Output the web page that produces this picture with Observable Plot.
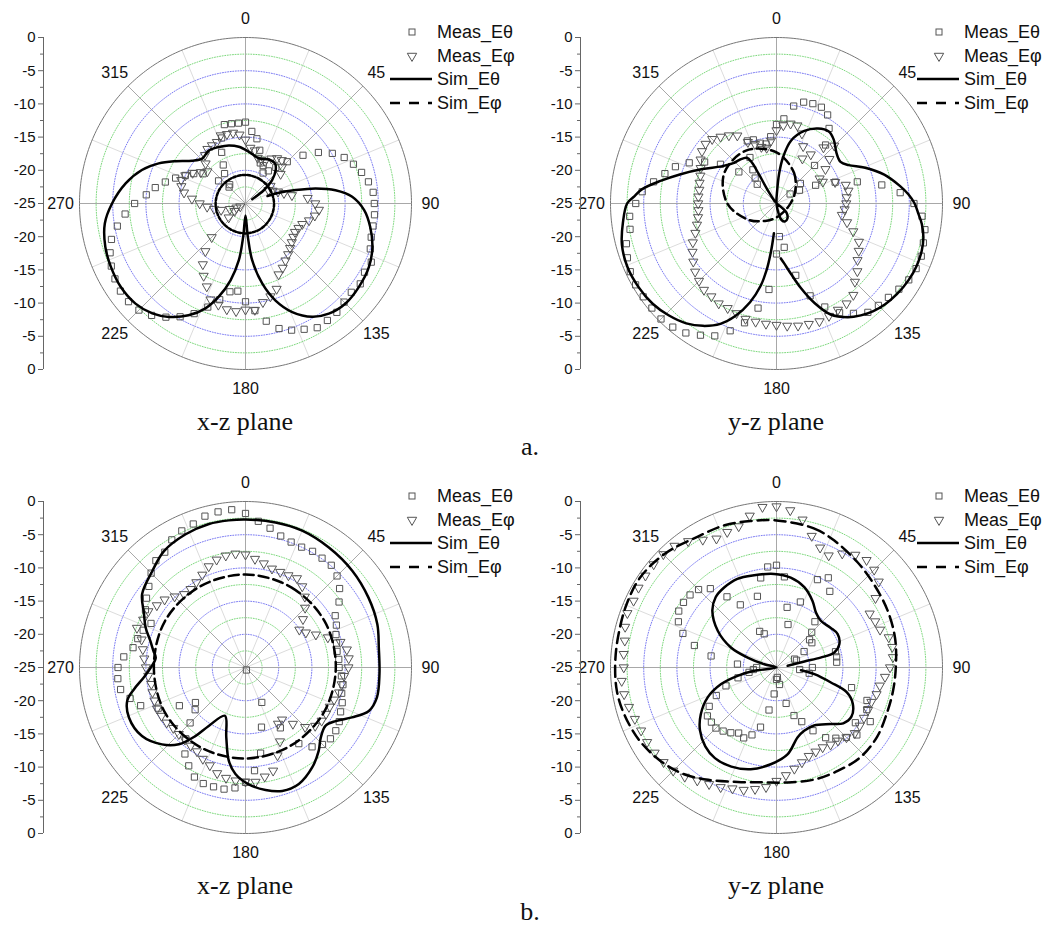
<!DOCTYPE html>
<html><head><meta charset="utf-8">
<script src="https://cdn.jsdelivr.net/npm/d3@7"></script>
<script src="https://cdn.jsdelivr.net/npm/@observablehq/plot@0.6"></script>
<style>
body{margin:0;background:#fff;}
#root{position:relative;width:1061px;height:931px;background:#fff;overflow:hidden;font-family:"Liberation Sans",Arial,sans-serif;}
.cap{position:absolute;font-family:"Liberation Serif","Times New Roman",serif;font-size:26px;color:#111;transform:translate(-50%,-50%);white-space:nowrap;}
</style></head><body><div id="root"></div><script>
// ---------- axis / label data ----------
const ANGLES = [0,5,10,15,20,25,30,35,40,45,50,55,60,65,70,75,80,85,90,95,100,105,110,115,120,125,130,135,140,145,150,155,160,165,170,175,180,185,190,195,200,205,210,215,220,225,230,235,240,245,250,255,260,265,270,275,280,285,290,295,300,305,310,315,320,325,330,335,340,345,350,355];
const ANGLE_LABELS = [0,45,90,135,180,225,270,315];
const MAJOR_SPOKES = [0,45,90,135,180,225,270,315];
const MINOR_SPOKES = [22.5,67.5,112.5,157.5,202.5,247.5,292.5,337.5];
const RADIAL_TICKS = [0,-5,-10,-15,-20,-25];
const MINOR_TICKS = [-2.5,-7.5,-12.5,-17.5,-22.5];
const RINGS_BLUE = [-20,-15,-10,-5];
const RINGS_GREEN = [-22.5,-17.5,-12.5,-7.5,-2.5];
const RMIN = -25, RMAX = 0;
const LEGEND_LABELS = ["Meas_E\u03b8","Meas_E\u03c6","Sim_E\u03b8","Sim_E\u03c6"];
const PLANE_LABELS = ["x-z plane","y-z plane","x-z plane","y-z plane"];
const GROUP_LABELS = ["a.","b."];

// ---------- panel a, x-z ----------
const P1_MEAS_THETA = [-12.75,-14.1,-15.1,-16.7,-18.5,-18.7,-19.7,-19.0,-17.9,-16.1,-13.7,-11.6,
 -9.9,-8.6,-7.7,-6.9,-6.2,-5.7,-5.6,-5.5,-5.5,-5.4,-5.0,-4.1,
 -4.3,-3.9,-4.2,-4.0,-3.6,-3.5,-3.4,-4.1,-4.7,-5.5,-7.0,-8.8,
 -10.2,-11.75,-11.5,-10.0,-8.4,-6.7,-5.3,-4.1,-3.0,-2.3,-2.0,-2.0,
 -2.3,-2.7,-3.3,-4.1,-5.4,-6.8,-8.3,-10.0,-11.2,-12.5,-13.8,-15.0,
 -16.0,-17.2,-19.7,-21.5,-21.3,-19.5,-18.3,-16.5,-14.5,-12.7,-12.8,-12.85];
const P1_MEAS_PHI = [-15.4,-16.6,-16.9,-17.9,-18.0,-18.0,-17.2,-16.7,-16.5,-17.2,-18.1,-20.4,
 -21.0,-20.5,-19.8,-19.0,-17.9,-15.6,-14.5,-13.9,-14.4,-15.1,-15.9,-16.2,
 -16.4,-16.2,-15.9,-15.5,-15.0,-14.5,-13.8,-13.2,-11.3,-10.5,-9.9,-8.9,
 -9.0,-8.7,-8.8,-9.2,-9.6,-11.2,-12.4,-13.8,-15.6,-17.8,-21.7,-23.0,
 -24.1,-23.5,-22.5,-21.2,-20.2,-19.2,-18.1,-16.9,-15.6,-15.0,-14.7,-15.0,
 -15.8,-16.8,-17.5,-16.5,-15.5,-15.0,-14.9,-14.8,-14.1,-14.2,-14.2,-14.6];
const P1_SIM_THETA = [[71.3,-21.5],[72.3,-19.7],[75,-17.2],[77.9,-14.2],[81.6,-11.3],[86.4,-8.9],[93.2,-7.1],[100.6,-5.9],[108.9,-4.8],[117.2,-4.1],[126.3,-3.8],[135,-3.7],[142.9,-4.2],[149.5,-5.2],[156.7,-7.2],[162.8,-9.7],[168.2,-12.7],[173.3,-16.4],[176,-20],[180,-23.2],[184,-20],[186.7,-16.4],[191,-13.2],[196,-10.4],[200.9,-8.1],[207,-6.1],[214,-4.4],[220.3,-3.3],[227.7,-2.6],[236.3,-2.4],[244.9,-2.6],[252.8,-2.9],[261.9,-3.6],[270,-4.9],[279.5,-6.7],[287.9,-8.6],[294.8,-10.6],[301.2,-12.7],[308.7,-14.7],[316,-15.6],[325.2,-15.3],[334.8,-15.6],[344,-15.9],[353.3,-16.4],[3.7,-17.2],[16.5,-17.9],[27.9,-17.5],[36.3,-17.5],[42,-18.2],[48.8,-19.7],[54,-21.6],[57,-23.8]];
const P1_SIM_PHI = [[0,-20.7],[30,-20.75],[60,-20.75],[90,-20.7],[120,-20.65],[150,-20.55],[180,-20.5],[210,-20.5],[240,-20.5],[270,-20.5],[300,-20.55],[330,-20.65]];

// ---------- panel a, y-z ----------
const P2_MEAS_THETA = [-13.1,-12.2,-10.1,-9.2,-9.0,-9.0,-9.6,-11.2,-13.5,-16.9,-20.3,-22.5,
 -21.0,-18.5,-15.6,-12.4,-8.9,-6.3,-4.3,-3.0,-2.3,-2.1,-1.8,-1.8,
 -2.0,-2.5,-3.0,-3.3,-3.6,-4.8,-6.0,-7.8,-10.2,-13.8,-18.3,-20.0,
 -17.4,-12.0,-9.0,-6.4,-4.6,-3.0,-2.1,-1.2,-0.7,-0.4,-0.5,-0.5,
 -0.5,-0.7,-1.1,-1.6,-2.6,-2.8,-3.8,-4.7,-6.2,-7.6,-8.8,-10.5,
 -12.5,-14.7,-17.6,-20.9,-20.0,-18.8,-17.0,-14.6,-14.8,-15.6,-15.9,-14.9];
const P2_MEAS_PHI = [-14.0,-13.2,-12.8,-12.85,-13.8,-15.5,-17.2,-16.0,-14.0,-12.7,-14.6,-16.0,
 -17.5,-17.3,-15.6,-14.2,-14.0,-14.4,-14.5,-14.7,-15.0,-14.0,-12.7,-11.3,
 -10.7,-10.1,-9.1,-8.3,-7.0,-6.6,-6.5,-6.3,-6.1,-6.2,-6.3,-6.5,
 -6.7,-6.8,-6.9,-7.0,-7.4,-7.6,-7.6,-7.9,-8.0,-8.5,-9.0,-9.7,
 -10.4,-11.1,-12.0,-12.6,-13.0,-13.2,-13.2,-13.2,-13.2,-13.0,-12.8,-12.4,
 -11.8,-11.3,-11.05,-11.3,-11.9,-12.5,-13.2,-14.8,-15.5,-16.2,-16.5,-15.5];
const P2_SIM_THETA = [[0,-25],[132,-23],[144,-22.2],[155,-22],[163,-22.4],[168,-23.4],[0,-25],
 [3,-23],[5,-20.5],[8,-18],[13,-15.3],[21,-13.3],[29,-12.1],[36,-11.6],[42,-12.1],[50,-13.2],[57,-13.5],[62,-12.7],[68,-10.6],[75,-8.2],[82,-6.2],[86,-5.1],[90,-4.2],[94,-3.6],[98,-2.9],[103,-2.3],[108,-2.0],[114,-1.9],[120,-2.0],[127,-2.3],[133,-2.7],[138,-3.2],[143,-3.9],[148,-4.8],[154,-6.4],[159,-8.9],[164,-11.8],[168.4,-14.2],[172.7,-15.9],[175.5,-16.7],
 null,
 [185,-20.5],[186.5,-17.8],[188.5,-14.8],[191,-12.3],[195,-9.6],[200,-7.0],[205,-5.0],[211,-3.5],[217,-2.4],[224,-1.6],[231,-1.0],[239,-0.7],[247,-0.6],[255,-0.9],[263,-1.7],[270,-2.5],[273,-3.6],[276,-4.6],[281,-7.2],[287,-9.9],[295,-12.7],[304,-15.0],[313,-16.1],[320,-16.4],[327,-16.8],[329,-17.8],[329,-19.8],[327,-22.4],[320,-24.6]];
const P2_SIM_PHI = [[0,-17.3],[30,-19.7],[60,-21.8],[90,-22.9],[120,-23.3],[150,-23.3],[180,-22.9],[210,-22.0],[240,-20.1],[270,-17.6],[300,-15.9],[330,-15.8]];

// ---------- panel b, x-z ----------
const P3_MEAS_THETA = [-1.8,-2.9,-3.7,-4.5,-4.9,-5.0,-4.8,-4.9,-4.9,-5.5,-6.5,-7.8,
 -9.4,-9.9,-10.5,-10.8,-11.0,-10.9,-10.9,-10.5,-10.1,-10.0,-9.5,-9.2,
 -8.7,-8.4,-8.3,-8.6,-9.4,-11.0,-14.5,-19.2,-24.6,-15.7,-11.9,-9.4,
 -7.7,-6.8,-6.4,-6.4,-6.4,-6.8,-7.9,-9.1,-11.0,-13.2,-15.1,-15.8,
 -13.5,-10.5,-8.2,-7.0,-5.9,-5.7,-5.8,-6.6,-7.8,-8.2,-8.6,-9.3,
 -7.6,-6.8,-6.0,-4.9,-4.0,-3.8,-2.8,-2.3,-2.0,-1.4,-1.2,-1.15];
const P3_MEAS_PHI = [-8.0,-8.6,-9.1,-9.6,-9.7,-9.7,-9.5,-10.1,-11.1,-12.3,-13.7,-15.1,
 -14.5,-13.3,-11.8,-10.2,-9.5,-9.4,-9.5,-10.1,-10.3,-10.4,-10.8,-11.0,
 -11.0,-11.0,-11.3,-12.3,-13.9,-15.4,-15.2,-12.7,-10.9,-8.9,-8.3,-7.7,
 -7.8,-7.9,-8.1,-8.5,-9.3,-9.8,-10.4,-10.6,-10.8,-10.8,-10.8,-10.5,
 -10.4,-10.3,-10.4,-10.5,-10.6,-10.3,-10.0,-9.7,-9.3,-8.8,-7.6,-8.0,
 -8.1,-8.7,-9.1,-9.9,-10.6,-10.6,-10.2,-9.6,-8.8,-8.2,-7.9,-7.8];
const P3_SIM_THETA = [[0,-2.7],[11.7,-2.7],[22.5,-2.7],[34.8,-3.0],[47.8,-3.3],[60.4,-3.7],[71.8,-4.1],[81.5,-4.7],[92.8,-4.8],[102.8,-4.7],[109.4,-5.3],[115.1,-7.3],[120.7,-9.2],[126.1,-10.1],[133,-9.5],[138.7,-8.3],[146.3,-6.9],[155.4,-5.7],[163.4,-5.6],[170.7,-6.3],[178.4,-7.4],[185.4,-8.9],[190.1,-10.7],[195.4,-14.1],[203.1,-17.1],[212.2,-14.6],[216.2,-12.2],[221,-9.7],[227.4,-7.9],[236.5,-6.3],[246.8,-5.9],[254.3,-6.5],[259,-7.9],[264.4,-9.6],[271,-10.9],[276.3,-11.4],[280.3,-10.9],[285.7,-10.1],[291.8,-8.8],[298.4,-7.6],[305.4,-5.9],[316,-4.8],[325,-3.6],[335.8,-3.0],[345.7,-2.7],[353.5,-2.7]];
const P3_SIM_PHI = [[0,-11.0],[30,-11.1],[60,-11.2],[90,-11.4],[120,-11.4],[150,-11.4],[180,-11.3],[210,-11.2],[240,-11.1],[270,-11.2],[300,-11.0],[330,-11.0]];

// ---------- panel b, y-z ----------
const P4_MEAS_THETA = [-9.6,-11.3,-15.8,-18.3,-14.5,-10.4,-9.4,-11.0,-16.0,-17.5,-18.5,-18.5,
 -20.2,-22.0,-21.8,-15.8,-15.8,-15.9,-19.6,-21.5,-20.0,-13.3,-10.5,-10.0,
 -8.7,-10.5,-9.2,-10.1,-11.1,-12.1,-14.0,-16.0,-17.3,-19.4,-22.4,-23.5,
 -23.2,-21.0,-18.5,-15.7,-14.2,-13.3,-13.6,-13.0,-12.5,-12.1,-12.2,-12.3,
 -13.3,-15.0,-16.9,-19.0,-20.8,-21.5,-22.0,-19.1,-15.0,-12.2,-10.0,-8.7,
 -8.0,-7.9,-8.0,-8.4,-9.5,-12.0,-14.1,-19.0,-19.6,-13.9,-11.3,-9.8];
const P4_MEAS_PHI = [-0.75,-1.25,-2.4,-4.5,-5.8,-6.4,-5.2,-4.3,-3.9,-4.2,-4.9,-6.8,
 -8.8,-8.6,-8.4,-7.5,-7.3,-7.4,-7.9,-8.6,-9.2,-9.4,-9.8,-9.8,
 -9.8,-9.7,-9.6,-10.1,-10.6,-10.8,-11.1,-11.0,-10.8,-10.2,-9.5,-8.7,
 -7.9,-6.9,-6.4,-5.9,-5.6,-5.1,-4.7,-4.2,-3.5,-3.0,-2.8,-2.6,
 -2.5,-2.5,-2.3,-2.0,-1.7,-1.6,-2.0,-1.9,-1.8,-1.4,-1.1,-1.25,
 -1.0,-0.9,-0.85,-0.9,-1.1,-1.8,-2.8,-3.6,-3.3,-3.0,-1.8,-0.75];
const P4_SIM_THETA = [[81.4,-23.3],[77.8,-20.7],[77.3,-18.2],[75.4,-16],[69.6,-14.9],[61.3,-14.5],[53.6,-14.9],[43.5,-15.3],[35.6,-14.8],[28.4,-13.6],[19.1,-12.2],[9,-11.3],[358.6,-10.9],[346.4,-10.7],[336.2,-10.4],[326.8,-10.6],[319.1,-11.0],[311.5,-12.1],[301.9,-14.6],[293.7,-17.5],[289,-20.4],[285,-23.1],[270,-25],[261.5,-21.6],[257.9,-19],[253.3,-16.3],[246.5,-13.7],[238.3,-11.6],[230.7,-10.1],[222.1,-9.0],[214.2,-8.5],[204.5,-8.6],[194.2,-9.2],[183.4,-10.4],[172.8,-11.8],[163.3,-14],[156.4,-14.6],[147.1,-14.6],[136.2,-13.2],[129.9,-11.9],[123.3,-11.5],[115.3,-12.3],[109.4,-13.8],[105.4,-16.5],[100,-19.2],[96.3,-21.3]];
const P4_SIM_PHI = [[0,-2.85],[15,-3.3],[24.5,-4.0],[37.6,-5.0],[49.5,-5.7],[63,-6.2],[75.9,-6.6],[88.4,-7.0],[101.2,-7.1],[112.8,-7.0],[124.7,-6.6],[136.9,-6.5],[149.4,-6.9],[161.4,-7.2],[174.5,-7.6],[186.1,-7.6],[198.7,-6.8],[211.3,-5.2],[221.9,-3.6],[231.9,-2.5],[242.2,-1.6],[253.1,-1.0],[261.8,-0.7],[271.2,-0.7],[280.6,-0.7],[292.6,-0.5],[303.4,-0.4],[315.7,-1.0],[329,-2.0],[340,-2.2],[350,-2.6]];

// ---------- layout ----------
const K = 166 / 25; // pixels per dB
const PANELS = [
  {left:0,   top:0,   width:520, height:420, cx:245, cy:203, axisDx:-202, legDx:0,  mT:P1_MEAS_THETA, mP:P1_MEAS_PHI, sT:P1_SIM_THETA, sP:P1_SIM_PHI, tCurve:"catmull-rom",        dash:"3,2",  cap:0},
  {left:520, top:0,   width:541, height:420, cx:256, cy:203, axisDx:-196, legDx:-4, mT:P2_MEAS_THETA, mP:P2_MEAS_PHI, sT:P2_SIM_THETA, sP:P2_SIM_PHI, tCurve:"catmull-rom",        dash:"9,5",  cap:1},
  {left:0,   top:460, width:520, height:420, cx:245, cy:207, axisDx:-202, legDx:0,  mT:P3_MEAS_THETA, mP:P3_MEAS_PHI, sT:P3_SIM_THETA, sP:P3_SIM_PHI, tCurve:"catmull-rom-closed", dash:"10,5", cap:2},
  {left:520, top:460, width:541, height:420, cx:256, cy:207, axisDx:-196, legDx:-4, mT:P4_MEAS_THETA, mP:P4_MEAS_PHI, sT:P4_SIM_THETA, sP:P4_SIM_PHI, tCurve:"catmull-rom",        dash:"11,6", cap:3}
];

const rad = a => a * Math.PI / 180;
const X = (a, v) => (v - RMIN) * Math.sin(rad(a));
const Y = (a, v) => (v - RMIN) * Math.cos(rad(a));

const triangleDown = {
  draw(context, size) {
    const s = Math.sqrt(size * 4 / Math.sqrt(3));
    const h = s * Math.sqrt(3) / 2;
    context.moveTo(-s / 2, -h / 3);
    context.lineTo(s / 2, -h / 3);
    context.lineTo(0, 2 * h / 3);
    context.closePath();
  }
};

function makePanel(p) {
  const span = RMAX - RMIN;
  const circ = vals => vals.flatMap(v => d3.range(0, 361, 2).map(a => ({v, a})));
  const outer = d3.range(0, 361, 1).map(a => ({a}));
  const axisX = p.axisDx / K;
  const labelR = span + 19 / K;
  const tickPos = RADIAL_TICKS.flatMap(v => v === RMIN ? [{v, y: 0}] : [{v, y: v - RMIN}, {v, y: -(v - RMIN)}]);
  const minorPos = MINOR_TICKS.flatMap(v => [v - RMIN, -(v - RMIN)]);
  const meas = vals => ANGLES.map((a, i) => ({a, v: vals[i]}));
  const pairs = arr => arr.map(d => d == null ? {a: NaN, v: NaN} : {a: d[0], v: d[1]});
  const px = d => X(d.a, d.v), py = d => Y(d.a, d.v);
  return Plot.plot({
    width: p.width, height: p.height, margin: 0,
    x: {domain: [-p.cx / K, (p.width - p.cx) / K], axis: null},
    y: {domain: [-(p.height - p.cy) / K, p.cy / K], axis: null},
    style: {background: "none", overflow: "visible", fontFamily: "'Liberation Sans', Arial, sans-serif", fontSize: "16px", color: "#111"},
    marks: [
      Plot.link(MINOR_SPOKES, {x1: 0, y1: 0, x2: a => X(a, RMAX), y2: a => Y(a, RMAX), stroke: "#dcdcdc", strokeWidth: 1}),
      Plot.line(circ(RINGS_GREEN), {x: px, y: py, z: "v", stroke: "#6fd46f", strokeWidth: 0.9, strokeDasharray: "1,1.6"}),
      Plot.line(circ(RINGS_BLUE), {x: px, y: py, z: "v", stroke: "#6c6cf0", strokeWidth: 0.9, strokeDasharray: "1,1.6"}),
      Plot.link(MAJOR_SPOKES, {x1: 0, y1: 0, x2: a => X(a, RMAX), y2: a => Y(a, RMAX), stroke: "#a8a8a8", strokeWidth: 1}),
      Plot.line(outer, {x: d => X(d.a, RMAX), y: d => Y(d.a, RMAX), stroke: "#777", strokeWidth: 1}),
      Plot.text(ANGLE_LABELS, {x: a => labelR * Math.sin(rad(a)), y: a => labelR * Math.cos(rad(a)), text: a => String(a), fontSize: 16, fill: "#111"}),
      Plot.ruleX([axisX], {y1: -span, y2: span, stroke: "#666", strokeWidth: 1}),
      Plot.ruleY(tickPos, {y: "y", x1: axisX - 5 / K, x2: axisX, stroke: "#666"}),
      Plot.ruleY(minorPos, {y: d => d, x1: axisX - 3 / K, x2: axisX, stroke: "#666"}),
      Plot.text(tickPos, {x: axisX, y: "y", text: d => String(d.v), textAnchor: "end", dx: -8, fontSize: 15, fill: "#111"}),
      Plot.dot(meas(p.mT), {x: px, y: py, symbol: "square", r: 3.5, stroke: "#555", fill: "none", strokeWidth: 1}),
      Plot.dot(meas(p.mP), {x: px, y: py, symbol: triangleDown, r: 3.4, stroke: "#555", fill: "none", strokeWidth: 1}),
      Plot.line(pairs(p.sT), {x: px, y: py, stroke: "#000", strokeWidth: 2.5, curve: p.tCurve}),
      Plot.line(pairs(p.sP), {x: px, y: py, stroke: "#000", strokeWidth: 2.5, strokeDasharray: p.dash, curve: "catmull-rom-closed"})
    ]
  });
}

function makeLegend(p) {
  const rows = [-171, -147, -124, -100];
  const ox = p.left + p.cx + 130 + p.legDx, oy = p.top + p.cy - 185;
  const svg = d3.create("svg").attr("width", 150).attr("height", 100)
    .style("position", "absolute").style("left", ox + "px").style("top", oy + "px").style("overflow", "visible");
  const ys = rows.map(r => r + 185);
  const sx = 37, lx1 = 15, lx2 = 57, tx = 62;
  svg.append("rect").attr("x", sx - 3).attr("y", ys[0] - 3).attr("width", 6).attr("height", 6)
    .attr("fill", "none").attr("stroke", "#555");
  const s = 9.4, h = s * Math.sqrt(3) / 2;
  svg.append("path").attr("d", `M${sx - s / 2},${ys[1] - h / 3}L${sx + s / 2},${ys[1] - h / 3}L${sx},${ys[1] + 2 * h / 3}Z`)
    .attr("fill", "none").attr("stroke", "#555");
  svg.append("line").attr("x1", lx1).attr("x2", lx2).attr("y1", ys[2]).attr("y2", ys[2]).attr("stroke", "#000").attr("stroke-width", 2.5);
  svg.append("line").attr("x1", lx1).attr("x2", lx2).attr("y1", ys[3]).attr("y2", ys[3]).attr("stroke", "#000").attr("stroke-width", 2.5).attr("stroke-dasharray", "10,9");
  LEGEND_LABELS.forEach((t, i) => {
    svg.append("text").attr("x", tx).attr("y", ys[i]).attr("dy", "0.35em").attr("font-size", 18)
      .attr("font-family", "'Liberation Sans', Arial, sans-serif").attr("fill", "#111").text(t);
  });
  return svg.node();
}

const root = document.getElementById("root");
for (const p of PANELS) {
  const svg = makePanel(p);
  svg.style.position = "absolute";
  svg.style.left = p.left + "px";
  svg.style.top = p.top + "px";
  root.appendChild(svg);
  root.appendChild(makeLegend(p));
  const cap = document.createElement("div");
  cap.className = "cap";
  cap.textContent = PLANE_LABELS[p.cap];
  cap.style.left = (p.left + p.cx) + "px";
  cap.style.top = (p.top + p.cy + 219) + "px";
  root.appendChild(cap);
}
[[530, 447], [530, 912]].forEach(([x, y], i) => {
  const g = document.createElement("div");
  g.className = "cap";
  g.textContent = GROUP_LABELS[i];
  g.style.left = x + "px";
  g.style.top = y + "px";
  root.appendChild(g);
});
</script></body></html>
